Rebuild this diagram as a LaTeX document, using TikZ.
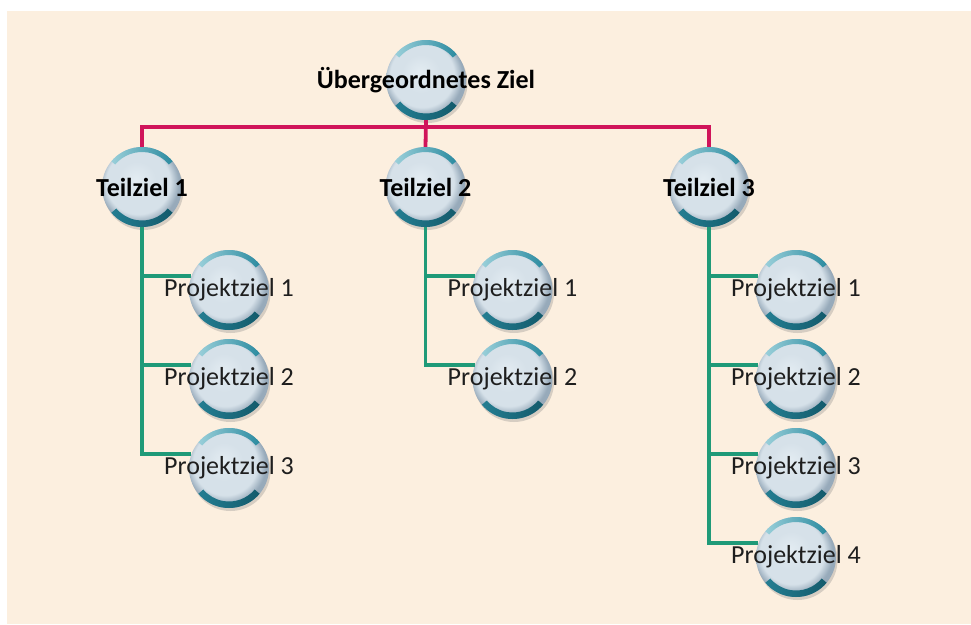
\documentclass[tikz,border=0pt]{standalone}
\usepackage{fontspec}
\setmainfont{Carlito}
\usetikzlibrary{shadows}
\definecolor{hgrund}{HTML}{FCEFDF}
\definecolor{zhell}{HTML}{E3ECF2}
\definecolor{zmitte}{HTML}{D6E1E9}
\definecolor{zrand}{HTML}{97AABA}
\definecolor{bogenhell}{HTML}{9BD0DA}
\definecolor{bogenmitte}{HTML}{2A8A9F}
\definecolor{bogendunkel}{HTML}{135A6B}
\definecolor{rotlinie}{HTML}{D0145A}
\definecolor{gruenlinie}{HTML}{1F9A78}
\definecolor{schrift}{HTML}{1E1E1E}
\pgfdeclareradialshading{zielkugel}{\pgfpoint{-4bp}{5bp}}{color(0bp)=(zhell); color(12bp)=(zmitte); color(20bp)=(zmitte); color(25bp)=(zrand); color(50bp)=(zrand)}
\tikzset{ziel/.style={circle,minimum size=80pt,inner sep=0pt,shading=zielkugel,
  drop shadow={shadow xshift=1.5pt,shadow yshift=-3pt,opacity=.3},
  path picture={\begin{scope}[shift={(path picture bounding box.center)},x=1pt,y=1pt]
    \shade[left color=bogenhell,right color=bogenmitte] (40:41) arc[start angle=40,end angle=140,radius=41] -- (140:35) arc[start angle=140,end angle=40,radius=35] -- cycle;
    \shade[left color=bogenmitte!75!bogendunkel,right color=bogendunkel] (220:41) arc[start angle=220,end angle=320,radius=41] -- (320:33.5) arc[start angle=320,end angle=220,radius=33.5] -- cycle;
  \end{scope}}}}
\tikzset{hauptlinie/.style={draw=rotlinie,line width=3.8pt}}
\tikzset{astlinie/.style={draw=gruenlinie,line width=3.8pt}}
\tikzset{zieltext/.style={font=\fontsize{26}{30}\selectfont\bfseries,text=black}}
\tikzset{projtext/.style={font=\fontsize{26}{30}\selectfont,text=schrift}}

\begin{document}
\begin{tikzpicture}[x=1pt,y=-1pt]
    \useasboundingbox (0,0) rectangle (971,624);
    \fill[white] (0,0) rectangle (971,624);
    \fill[hgrund] (7,11) rectangle (971,624);

    \node[ziel,label={[zieltext]center:Übergeordnetes Ziel}] (oben) at (426,80) {};
    \coordinate (verteil) at (426,127);

    \foreach \s/\x/\n in {1/142/3,2/425.5/2,3/709/4}{
      \node[ziel,label={[zieltext]center:Teilziel \s}] (t\s) at (\x,187) {};
      \foreach \k in {1,...,\n}{
        \node[ziel,label={[projtext]center:Projektziel \k}] (p\s\k) at (\x+87,201+89*\k) {};
        \draw[astlinie] (t\s.south) |- (p\s\k.160);
      }
    }

    \draw[hauptlinie] (t1.north) |- (verteil) -| (t3.north);
    \draw[hauptlinie] (oben.south) -- (t2.north);
\end{tikzpicture}
\end{document}
